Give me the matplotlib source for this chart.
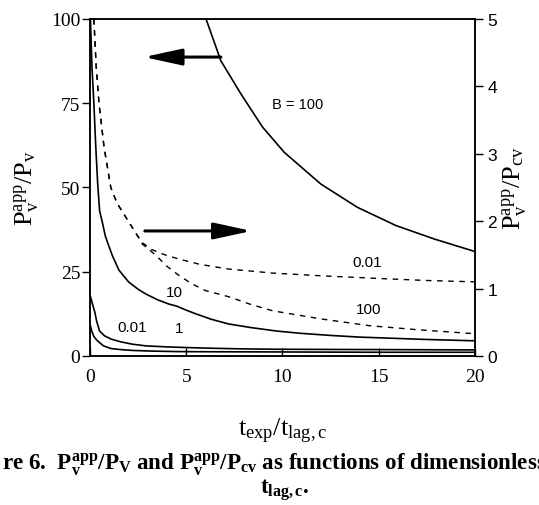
import matplotlib
matplotlib.use("Agg")
import matplotlib.pyplot as plt

plt.rcParams['mathtext.fontset'] = 'custom'
plt.rcParams['mathtext.rm'] = 'Liberation Serif'
plt.rcParams['mathtext.it'] = 'Liberation Serif:italic'
plt.rcParams['mathtext.bf'] = 'Liberation Serif:bold'

# ---- data (left axis: P_v^app/P_v, solid) ----
t_b100 = [6.03, 6.8, 7.85, 8.97, 10.1, 12.0, 13.9, 15.9, 17.9, 20.0]
v_b100 = [100, 87.6, 77.7, 67.9, 60.4, 51.0, 44.1, 38.7, 34.7, 31.0]

t_b10 = [0.02, 0.1, 0.2, 0.3, 0.4, 0.5, 0.64, 0.8, 1.0, 1.16, 1.5, 2.0, 2.5, 2.9, 3.5, 4.1, 4.5,
         5.0, 5.5, 6.3, 7.2, 8.4, 9.7, 11.0, 12.5, 14.0, 15.5, 17.5, 20.0]
v_b10 = [100, 86, 75, 62, 51, 43, 39.7, 35.5, 32.3, 29.8, 25.5, 22.0, 19.8, 18.4, 16.7, 15.4, 14.8,
         13.6, 12.5, 10.9, 9.5, 8.4, 7.4, 6.7, 6.1, 5.6, 5.3, 4.9, 4.5]

t_b1 = [0.03, 0.15, 0.25, 0.35, 0.5, 0.75, 1.1, 1.6, 2.2, 2.9, 4.0, 5.0, 6.3, 8.0, 9.7, 12.0, 15.0, 20.0]
v_b1 = [17.5, 15.0, 13.0, 10.2, 7.4, 6.0, 5.0, 4.2, 3.5, 3.0, 2.7, 2.5, 2.3, 2.1, 2.0, 1.95, 1.9, 1.8]

t_b001 = [0.03, 0.1, 0.2, 0.32, 0.47, 0.7, 1.1, 1.6, 2.2, 3.2, 4.6, 6.5, 9.7, 15.0, 20.0]
v_b001 = [8.8, 7.2, 5.8, 4.9, 4.1, 3.0, 2.2, 1.9, 1.65, 1.45, 1.3, 1.25, 1.2, 1.1, 1.1]

# ---- data (right axis: P_v^app/P_cv, dashed) ----
t_d001 = [0.2, 0.32, 0.47, 0.73, 1.08, 1.4, 1.77, 2.3, 2.72, 3.2, 3.9, 4.6, 5.7, 7.2, 9.5, 12.0, 15.0, 17.5, 20.0]
v_d001 = [5.0, 4.3, 3.74, 3.1, 2.5, 2.27, 2.1, 1.86, 1.68, 1.58, 1.5, 1.44, 1.36, 1.29, 1.23, 1.19, 1.15, 1.12, 1.10]

t_d100 = [0.2, 0.32, 0.47, 0.73, 1.08, 1.4, 1.77, 2.3, 2.72, 3.4, 4.0, 4.6, 5.3, 6.0, 7.2, 8.3, 9.5, 12.0, 14.5, 17.0, 20.0]
v_d100 = [5.0, 4.3, 3.74, 3.1, 2.5, 2.27, 2.1, 1.86, 1.66, 1.50, 1.33, 1.20, 1.07, 0.97, 0.88, 0.77, 0.67, 0.55, 0.45, 0.39, 0.33]

xticks = [0, 5, 10, 15, 20]
yticks_left = [0, 25, 50, 75, 100]
yticks_right = [0, 1, 2, 3, 4, 5]

fig = plt.figure(figsize=(5.39, 5.06), dpi=100)
ax = fig.add_axes([0.167, 0.2945, 0.714, 0.666])
ax2 = ax.twinx()

lw = 1.2
ax.plot(t_b100, v_b100, 'k-', lw=lw)
ax.plot(t_b10, v_b10, 'k-', lw=lw)
ax.plot(t_b1, v_b1, 'k-', lw=lw)
ax.plot(t_b001, v_b001, 'k-', lw=lw)
ax2.plot(t_d001, v_d001, 'k--', lw=1.0, dashes=(4, 4))
ax2.plot(t_d100, v_d100, 'k--', lw=1.0, dashes=(4, 4))

ax.set_xlim(0, 20)
ax.set_ylim(0, 100)
ax2.set_ylim(0, 5)

ax.set_xticks(xticks)
ax.set_yticks(yticks_left)
ax2.set_yticks(yticks_right)

serif = 'Liberation Serif'
sans = 'Liberation Sans'
ax.tick_params(axis='x', direction='in', length=6, width=1, pad=9, labelsize=14)
ax.tick_params(axis='y', direction='out', length=6, width=1, pad=1, labelsize=14)
ax2.tick_params(axis='y', direction='out', length=6, width=1, pad=3, labelsize=12.5)
for lab in ax.get_xticklabels() + ax.get_yticklabels():
    lab.set_fontfamily(serif)
for lab in ax2.get_yticklabels():
    lab.set_fontfamily(sans)

for a in (ax, ax2):
    for s in a.spines.values():
        s.set_linewidth(1.1)

ax.set_ylabel(r'$\mathrm{P_v^{app}/P_v}$', fontsize=19, labelpad=7)
ax2.set_ylabel(r'$\mathrm{P_v^{app}/P_{cv}}$', fontsize=19, labelpad=2)
ax.set_xlabel(r'$\mathrm{t_{exp}/t_{lag,c}}$', fontsize=19, labelpad=22)

# curve labels
ax.text(10.8, 74.8, 'B = 100', fontsize=10.5, family=sans, ha='center', va='center')
ax.text(4.4, 19.0, '10', fontsize=11, family=sans, ha='center', va='center')
ax.text(2.2, 8.5, '0.01', fontsize=11, family=sans, ha='center', va='center')
ax.text(4.65, 8.2, '1', fontsize=11, family=sans, ha='center', va='center')
ax2.text(14.4, 1.39, '0.01', fontsize=11, family=sans, ha='center', va='center')
ax2.text(14.5, 0.70, '100', fontsize=11, family=sans, ha='center', va='center')

# arrows
astyle = '-|>,head_length=2.3,head_width=0.5'
ax.annotate('', xy=(2.8, 88.7), xytext=(6.8, 88.7),
            arrowprops=dict(arrowstyle=astyle, color='k', lw=2.2, shrinkA=0, shrinkB=0))
ax.annotate('', xy=(8.4, 37.1), xytext=(2.85, 37.1),
            arrowprops=dict(arrowstyle=astyle, color='k', lw=2.2, shrinkA=0, shrinkB=0))

# caption
fig.text(0.003, 1 - 465 / 506, r're 6.  $\mathbf{P_v^{app}/P_V}$ and $\mathbf{P_v^{app}/P_{cv}}$ as functions of dimensionless',
         fontsize=16.6, family=serif, fontweight='bold', ha='left', va='center')
fig.text(285 / 539, 1 - 490 / 506, r'$\mathbf{t_{lag,c}}$.',
         fontsize=16.6, family=serif, fontweight='bold', ha='center', va='center')

fig.savefig('out.png', dpi=100)
